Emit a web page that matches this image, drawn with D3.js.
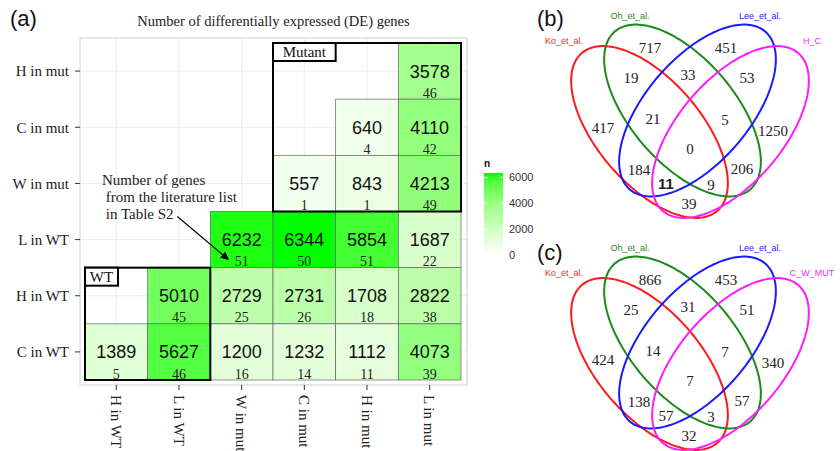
<!DOCTYPE html>
<html>
<head>
<meta charset="utf-8">
<script src="https://cdn.jsdelivr.net/npm/d3@7"></script>
<style>
  html, body { margin: 0; padding: 0; background: #fff; }
  svg { display: block; }
</style>
</head>
<body>
<div id="chart"></div>
<script>
// ── Data ─────────────────────────────────────────────────────────────────────
const rowNames = ["H in mut", "C in mut", "W in mut", "L in WT", "H in WT", "C in WT"];
const colNames = ["H in WT", "L in WT", "W in mut", "C in mut", "H in mut", "L in mut"];

// one entry per filled tile
const cellRow = ["H in mut", "C in mut", "C in mut", "W in mut", "W in mut", "W in mut",
                 "L in WT", "L in WT", "L in WT", "L in WT",
                 "H in WT", "H in WT", "H in WT", "H in WT", "H in WT",
                 "C in WT", "C in WT", "C in WT", "C in WT", "C in WT", "C in WT"];
const cellCol = ["L in mut", "H in mut", "L in mut", "C in mut", "H in mut", "L in mut",
                 "W in mut", "C in mut", "H in mut", "L in mut",
                 "L in WT", "W in mut", "C in mut", "H in mut", "L in mut",
                 "H in WT", "L in WT", "W in mut", "C in mut", "H in mut", "L in mut"];
const deGenes  = [3578, 640, 4110, 557, 843, 4213,
                  6232, 6344, 5854, 1687,
                  5010, 2729, 2731, 1708, 2822,
                  1389, 5627, 1200, 1232, 1112, 4073];
const litGenes = [46, 4, 42, 1, 1, 49,
                  51, 50, 51, 22,
                  45, 25, 26, 18, 38,
                  5, 46, 16, 14, 11, 39];
const legendTicks = [0, 2000, 4000, 6000];

// Venn regions (same order for both diagrams)
const regionKeys = ["Ko", "Oh", "Lee", "X", "Ko&Oh", "Oh&Lee", "Lee&X", "Ko&Oh&Lee", "Oh&Lee&X",
                    "all", "Ko&Lee", "Oh&X", "Ko&Lee&X", "Ko&Oh&X", "Ko&X"];
const vennSetsB = ["Ko_et_al.", "Oh_et_al.", "Lee_et_al.", "H_C"];
const vennB = [417, 717, 451, 1250, 19, 33, 53, 21, 5, 0, 184, 206, 11, 9, 39];
const vennSetsC = ["Ko_et_al.", "Oh_et_al.", "Lee_et_al.", "C_W_MUT"];
const vennC = [424, 866, 453, 340, 25, 31, 51, 14, 7, 7, 138, 57, 57, 3, 32];

// ── Layout ───────────────────────────────────────────────────────────────────
const W = 840, H = 451;
const SERIF = '"Liberation Serif", "DejaVu Serif", serif';
const SANS  = '"Liberation Sans", Arial, sans-serif';

const svg = d3.select("#chart").append("svg")
  .attr("width", W).attr("height", H)
  .attr("viewBox", `0 0 ${W} ${H}`);

svg.append("rect").attr("width", W).attr("height", H).attr("fill", "#fff");

// ── (a) heat map ─────────────────────────────────────────────────────────────
const x = d3.scaleBand().domain(colNames).range([85, 461]);
const y = d3.scaleBand().domain(rowNames).range([43, 380]);
const bw = x.bandwidth(), bh = y.bandwidth();
const maxDE = d3.max(deGenes);
const color = d3.scaleLinear().domain([0, maxDE]).range(["#ffffff", "#00ff00"])
  .interpolate(d3.interpolateLab);

const P = { l: 80, r: 467, t: 38, b: 385 };

svg.append("text").attr("x", 10).attr("y", 26)
  .attr("font-family", SANS).attr("font-size", 22).attr("fill", "#111").text("(a)");

svg.append("text").attr("x", (P.l + P.r) / 2).attr("y", 26)
  .attr("text-anchor", "middle").attr("font-family", SERIF).attr("font-size", 14.5)
  .attr("fill", "#222").text("Number of differentially expressed (DE) genes");

// panel + grid
svg.append("rect").attr("x", P.l).attr("y", P.t)
  .attr("width", P.r - P.l).attr("height", P.b - P.t)
  .attr("fill", "#fff");
colNames.forEach(c => svg.append("line")
  .attr("x1", x(c) + bw / 2).attr("x2", x(c) + bw / 2)
  .attr("y1", P.t).attr("y2", P.b).attr("stroke", "#ececec").attr("stroke-width", 1));
rowNames.forEach(r => svg.append("line")
  .attr("y1", y(r) + bh / 2).attr("y2", y(r) + bh / 2)
  .attr("x1", P.l).attr("x2", P.r).attr("stroke", "#ececec").attr("stroke-width", 1));

// tiles
const cells = deGenes.map((v, i) => ({ r: cellRow[i], c: cellCol[i], n: v, lit: litGenes[i] }));
const gCells = svg.append("g");
gCells.selectAll("rect").data(cells).join("rect")
  .attr("x", d => x(d.c)).attr("y", d => y(d.r))
  .attr("width", bw).attr("height", bh)
  .attr("fill", d => color(d.n))
  .attr("stroke", "#666").attr("stroke-width", 0.7);

gCells.selectAll("text.big").data(cells).join("text").attr("class", "big")
  .attr("x", d => x(d.c) + bw / 2).attr("y", d => y(d.r) + bh / 2 + 6.5)
  .attr("text-anchor", "middle").attr("font-family", SANS).attr("font-size", 18)
  .attr("fill", "#111").text(d => d.n);

gCells.selectAll("text.small").data(cells).join("text").attr("class", "small")
  .attr("x", d => x(d.c) + bw / 2).attr("y", d => y(d.r) + bh - 1.5)
  .attr("text-anchor", "middle").attr("font-family", SERIF).attr("font-size", 14)
  .attr("fill", "#222").text(d => d.lit);

// panel border
svg.append("rect").attr("x", P.l).attr("y", P.t)
  .attr("width", P.r - P.l).attr("height", P.b - P.t)
  .attr("fill", "none").attr("stroke", "#cfcfcf").attr("stroke-width", 1);

// group boxes
function groupBox(c0, c1, r0, r1, label, lw) {
  const x0 = x(c0), x1 = x(c1) + bw, y0 = y(r0), y1 = y(r1) + bh;
  svg.append("rect").attr("x", x0).attr("y", y0).attr("width", x1 - x0).attr("height", y1 - y0)
    .attr("fill", "none").attr("stroke", "#000").attr("stroke-width", 2);
  svg.append("rect").attr("x", x0).attr("y", y0).attr("width", lw).attr("height", 18)
    .attr("fill", "#fff").attr("stroke", "#000").attr("stroke-width", 2);
  svg.append("text").attr("x", x0 + lw / 2).attr("y", y0 + 14)
    .attr("text-anchor", "middle").attr("font-family", SERIF).attr("font-size", 15)
    .attr("fill", "#111").text(label);
}
groupBox("C in mut", "L in mut", "H in mut", "W in mut", "Mutant", bw);
groupBox("H in WT", "L in WT", "H in WT", "C in WT", "WT", 33);

// axes
const yAxis = svg.append("g");
rowNames.forEach(r => {
  const cy = y(r) + bh / 2;
  yAxis.append("line").attr("x1", P.l - 5).attr("x2", P.l).attr("y1", cy).attr("y2", cy)
    .attr("stroke", "#333").attr("stroke-width", 1);
  yAxis.append("text").attr("x", P.l - 11).attr("y", cy).attr("dy", "0.35em")
    .attr("text-anchor", "end").attr("font-family", SERIF).attr("font-size", 15)
    .attr("fill", "#222").text(r);
});
const xAxis = svg.append("g");
colNames.forEach(c => {
  const cx = x(c) + bw / 2;
  xAxis.append("line").attr("x1", cx).attr("x2", cx).attr("y1", P.b).attr("y2", P.b + 5)
    .attr("stroke", "#333").attr("stroke-width", 1);
  xAxis.append("text").attr("transform", `translate(${cx},${P.b + 10}) rotate(90)`)
    .attr("dy", "0.35em").attr("text-anchor", "start")
    .attr("font-family", SERIF).attr("font-size", 15).attr("fill", "#222").text(c);
});

// annotation
const note = svg.append("text").attr("font-family", SERIF).attr("font-size", 15).attr("fill", "#222");
["Number of genes", " from the literature list", " in Table S2"].forEach((t, i) =>
  note.append("tspan").attr("x", 102).attr("y", 185 + i * 17).attr("xml:space", "preserve").text(t));

svg.append("defs").append("marker").attr("id", "arr")
  .attr("viewBox", "0 0 10 10").attr("refX", 9).attr("refY", 5)
  .attr("markerWidth", 7).attr("markerHeight", 7).attr("orient", "auto")
  .append("path").attr("d", "M0,0 L10,5 L0,10 z").attr("fill", "#000");
svg.append("line")
  .attr("x1", x("W in mut") - 33).attr("y1", y("L in WT") + 5)
  .attr("x2", x("W in mut") + 18).attr("y2", y("L in WT") + 48)
  .attr("stroke", "#000").attr("stroke-width", 1.2).attr("marker-end", "url(#arr)");

// colour legend
const L = { x: 484, w: 19 };
const ly = d3.scaleLinear().domain([0, maxDE]).range([255, 173]);
const grad = svg.select("defs").append("linearGradient").attr("id", "lg")
  .attr("x1", 0).attr("x2", 0).attr("y1", 1).attr("y2", 0);
d3.range(0, 1.0001, 0.1).forEach(t => grad.append("stop")
  .attr("offset", t).attr("stop-color", color(t * maxDE)));
svg.append("rect").attr("x", L.x).attr("y", ly(maxDE)).attr("width", L.w)
  .attr("height", ly(0) - ly(maxDE)).attr("fill", "url(#lg)");
svg.append("text").attr("x", L.x).attr("y", 167).attr("font-family", SANS)
  .attr("font-size", 10).attr("font-weight", "bold").attr("fill", "#111").text("n");
legendTicks.forEach(v => {
  [L.x, L.x + L.w - 4].forEach(tx => svg.append("line")
    .attr("x1", tx).attr("x2", tx + 4).attr("y1", ly(v)).attr("y2", ly(v))
    .attr("stroke", "#fff").attr("stroke-width", 1));
  svg.append("text").attr("x", L.x + L.w + 6).attr("y", ly(v)).attr("dy", "0.35em")
    .attr("font-family", SANS).attr("font-size", 11).attr("fill", "#333").text(v);
});

// ── (b), (c) Venn diagrams ───────────────────────────────────────────────────
// local geometry, 1 unit ≈ 1 px before the panel scales
const ellipses = [
  { cx: 129.5, cy: 132,   rot:  49.4, color: "#ff1a1a" },
  { cx: 162.5, cy: 110.5, rot:  49.4, color: "#1a8a1a" },
  { cx: 177.5, cy: 110.5, rot: -49.4, color: "#1a1aff" },
  { cx: 210.5, cy: 132,   rot: -49.4, color: "#ff1aff" }
];
const EA = 104, EB = 52;
const setLabelPos = [[44, 44], [110, 19], [240, 19], [292, 44]];
const regionPos = {
  "Ko": [83, 128], "Oh": [130, 48], "Lee": [206, 48], "X": [253, 131],
  "Ko&Oh": [111, 78], "Oh&Lee": [168, 75], "Lee&X": [227, 78],
  "Ko&Oh&Lee": [133, 119], "Oh&Lee&X": [205, 120], "all": [170, 149],
  "Ko&Lee": [119, 170], "Oh&X": [222, 169], "Ko&Lee&X": [146, 184],
  "Ko&Oh&X": [191, 185], "Ko&X": [169, 204]
};

function venn(tag, top, sets, values, labelTop) {
  const vx = d3.scaleLinear().domain([0, 320]).range([520, 840]);
  const vy = d3.scaleLinear().domain([0, 225]).range([top, top + 225]);
  const g = svg.append("g");

  g.append("text").attr("x", vx(17)).attr("y", labelTop)
    .attr("font-family", SANS).attr("font-size", 22).attr("fill", "#111").text(tag);

  const line = d3.line().curve(d3.curveLinearClosed);
  ellipses.forEach(e => {
    const th = e.rot * Math.PI / 180;
    const pts = d3.range(0, 2 * Math.PI, Math.PI / 90).map(t => {
      const u = EA * Math.cos(t), v = EB * Math.sin(t);
      return [vx(e.cx + u * Math.cos(th) - v * Math.sin(th)),
              vy(e.cy + u * Math.sin(th) + v * Math.cos(th))];
    });
    g.append("path").attr("d", line(pts)).attr("fill", "none")
      .attr("stroke", e.color).attr("stroke-width", 2);
  });

  sets.forEach((s, i) => g.append("text")
    .attr("x", vx(setLabelPos[i][0])).attr("y", vy(setLabelPos[i][1]))
    .attr("text-anchor", "middle").attr("font-family", SANS).attr("font-size", 9)
    .attr("fill", ellipses[i].color).text(s));

  regionKeys.forEach((k, i) => {
    const bold = tag === "(b)" && k === "Ko&Lee&X";
    g.append("text")
      .attr("x", vx(regionPos[k][0])).attr("y", vy(regionPos[k][1])).attr("dy", "0.35em")
      .attr("text-anchor", "middle")
      .attr("font-family", bold ? SANS : SERIF)
      .attr("font-weight", bold ? "bold" : "normal")
      .attr("font-size", 15).attr("fill", "#222").text(values[i]);
  });
}
venn("(b)", 0, vennSetsB, vennB, 26);
venn("(c)", 232, vennSetsC, vennC, 260);
</script>
</body>
</html>
